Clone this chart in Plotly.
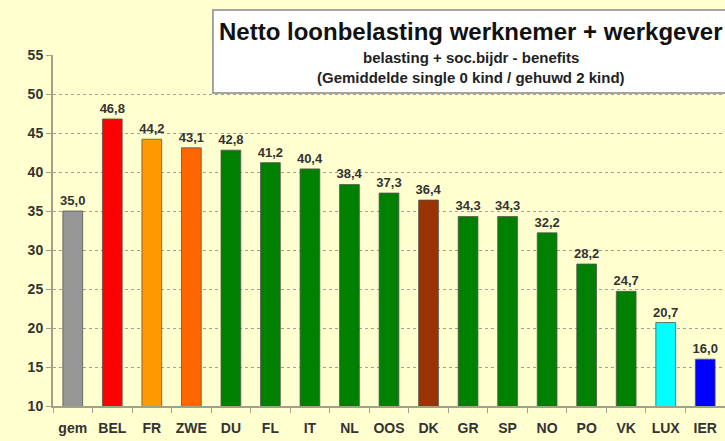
import plotly.graph_objects as go

categories = ["gem", "BEL", "FR", "ZWE", "DU", "FL", "IT", "NL", "OOS", "DK",
              "GR", "SP", "NO", "PO", "VK", "LUX", "IER"]
values = [35.0, 46.8, 44.2, 43.1, 42.8, 41.2, 40.4, 38.4, 37.3, 36.4,
          34.3, 34.3, 32.2, 28.2, 24.7, 20.7, 16.0]
colors = ["#969696", "#FF0000", "#FF9900", "#FF6600", "#008000", "#008000",
          "#008000", "#008000", "#008000", "#993300", "#008000", "#008000",
          "#008000", "#008000", "#008000", "#00FFFF", "#0000FF"]
y_ticks = [10, 15, 20, 25, 30, 35, 40, 45, 50, 55]

title = "Netto loonbelasting werknemer + werkgever"
sub1 = "belasting + soc.bijdr - benefits"
sub2 = "(Gemiddelde single 0 kind / gehuwd 2 kind)"

fig = go.Figure(go.Bar(
    x=categories, y=values,
    marker=dict(color=colors, line=dict(color="#555555", width=0.8)),
    width=0.5,
    text=values, texttemplate="%{y:.1f}", textposition="outside",
    textfont=dict(family="Arial", size=13, color="#333333", weight="bold"),
    cliponaxis=False,
))

bg = "#FFFFD0"
fig.update_layout(
    width=725, height=441,
    margin=dict(l=53, r=0, t=55, b=35, autoexpand=False),
    paper_bgcolor=bg, plot_bgcolor=bg,
    separators=",.",
    showlegend=False,
    font=dict(family="Arial", color="#333333"),
    bargap=0.5,
    uniformtext=dict(minsize=13, mode="show"),
)
fig.update_yaxes(
    range=[10, 55], tickvals=y_ticks, automargin=False,
    showgrid=True, gridcolor="#A0A0A0", griddash="dot", gridwidth=1,
    showline=True, linecolor="#A0A090", linewidth=2,
    ticks="outside", ticklen=5, tickcolor="#A0A090",
    tickfont=dict(family="Arial", size=14, color="#333333", weight="bold"),
    zeroline=False,
)
fig.update_xaxes(
    showline=True, linecolor="#A0A090", linewidth=2, automargin=False,
    ticks="outside", ticklen=5, tickcolor="#A0A090", tickson="boundaries",
    tickfont=dict(family="Arial", size=14, color="#333333", weight="bold"),
    tickangle=0, ticklabelstandoff=8,
    range=[-0.5, 16.5],
)

fig.add_shape(type="rect", xref="paper", yref="paper",
              x0=0.238, x1=1.05, y0=0.892, y1=1.128,
              fillcolor="white", line=dict(color="#888888", width=1.5), layer="above")
fig.add_annotation(xref="paper", yref="paper", x=0.622, y=1.066, yanchor="middle",
                   text="<b>" + title + "</b>", showarrow=False,
                   font=dict(family="Arial", size=24, color="#111111"))
fig.add_annotation(xref="paper", yref="paper", x=0.622, y=0.994, yanchor="middle",
                   text="<b>" + sub1 + "</b>", showarrow=False,
                   font=dict(family="Arial", size=15, color="#222222"))
fig.add_annotation(xref="paper", yref="paper", x=0.622, y=0.936, yanchor="middle",
                   text="<b>" + sub2 + "</b>", showarrow=False,
                   font=dict(family="Arial", size=15, color="#222222"))

fig.write_html("out.html", config={"displayModeBar": False},
               post_script="document.body.style.margin='0';document.body.style.overflow='hidden';")
